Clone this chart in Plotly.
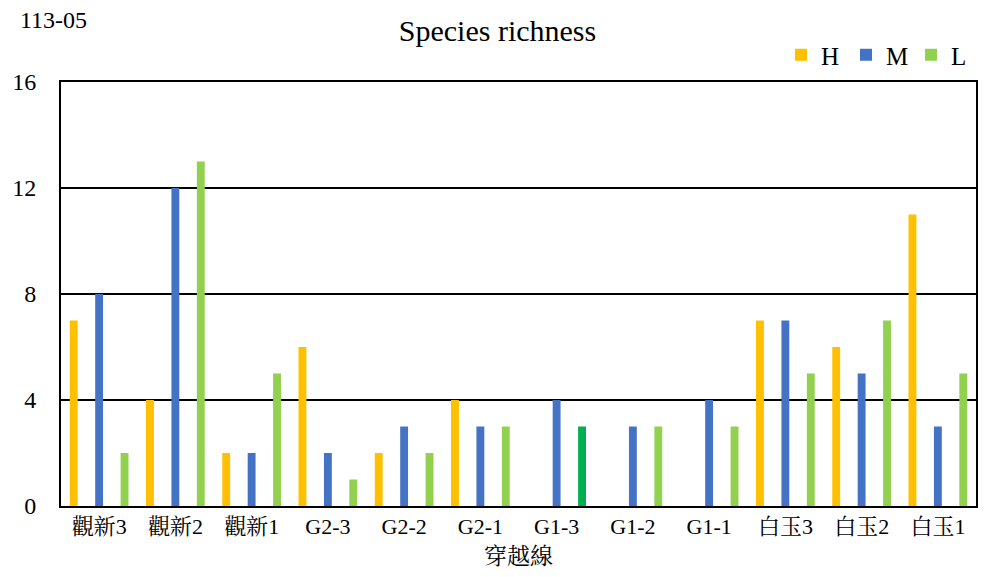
import plotly.graph_objects as go

categories = ["觀新3", "觀新2", "觀新1", "G2-3", "G2-2", "G2-1",
              "G1-3", "G1-2", "G1-1", "白玉3", "白玉2", "白玉1"]
H = [7, 4, 2, 6, 2, 4, 0, 0, 0, 7, 6, 11]
M = [8, 12, 2, 2, 3, 3, 4, 3, 4, 7, 5, 3]
L = [2, 13, 5, 1, 2, 3, 3, 3, 3, 5, 7, 5]
y_ticks = [0, 4, 8, 12, 16]

L_colors = ["#92D050"] * len(categories)
L_colors[6] = "#00B050"

fig = go.Figure()
fig.add_trace(go.Bar(name="H", x=categories, y=H, marker=dict(color="#FFC000", line_width=0)))
fig.add_trace(go.Bar(name="M", x=categories, y=M, marker=dict(color="#4472C4", line_width=0)))
fig.add_trace(go.Bar(name="L", x=categories, y=L, marker=dict(color=L_colors, line_width=0)))

serif = "Liberation Serif, Noto Serif CJK TC, Noto Sans CJK TC, serif"

# page body has an 8px margin; figure is 979x561 placed at (8, 8)
W, HGT, OFF = 979, 561, 8
# plot area (page px): left 61, right 976, top 82, bottom 506
def py(pix):
    return (506 - pix) / 424

def px(pix):
    return (pix - 61) / 915

fig.update_layout(
    width=W, height=HGT,
    margin=dict(l=61 - OFF, r=W - (976 - OFF), t=82 - OFF, b=HGT - (506 - OFF), autoexpand=False),
    paper_bgcolor="white", plot_bgcolor="white",
    barmode="group", bargap=0.0, bargroupgap=0.69,
    font=dict(family=serif, color="#000000", size=22),
    title=dict(text="Species richness", x=0.5, xanchor="center", y=1 - (30 - OFF) / HGT, yanchor="middle",
               font=dict(size=30, family=serif)),
    showlegend=True,
    legend=dict(orientation="h", x=px(976), xanchor="right", y=py(55), yanchor="middle",
                font=dict(size=25, family=serif), tracegroupgap=0, itemwidth=30,
                entrywidth=20, entrywidthmode="pixels",
                bgcolor="rgba(0,0,0,0)"),
    xaxis=dict(showline=True, linecolor="black", linewidth=2, mirror=True,
               ticks="", tickfont=dict(size=22, family=serif), automargin=False,
               title=dict(text="穿越線", font=dict(size=23, family=serif), standoff=10)),
    yaxis=dict(range=[0, 16], tickvals=y_ticks, showgrid=True, gridcolor="black", gridwidth=2,
               showline=True, linecolor="black", linewidth=2, mirror=True, automargin=False,
               ticks="", tickfont=dict(size=24, family=serif), zeroline=False, ticklabelstandoff=18),
    annotations=[dict(text="113-05", x=px(18), xref="paper", xanchor="left",
                      y=py(20), yref="paper", yanchor="middle",
                      showarrow=False, font=dict(size=24, family=serif))],
)

fig.write_html("out.html")
